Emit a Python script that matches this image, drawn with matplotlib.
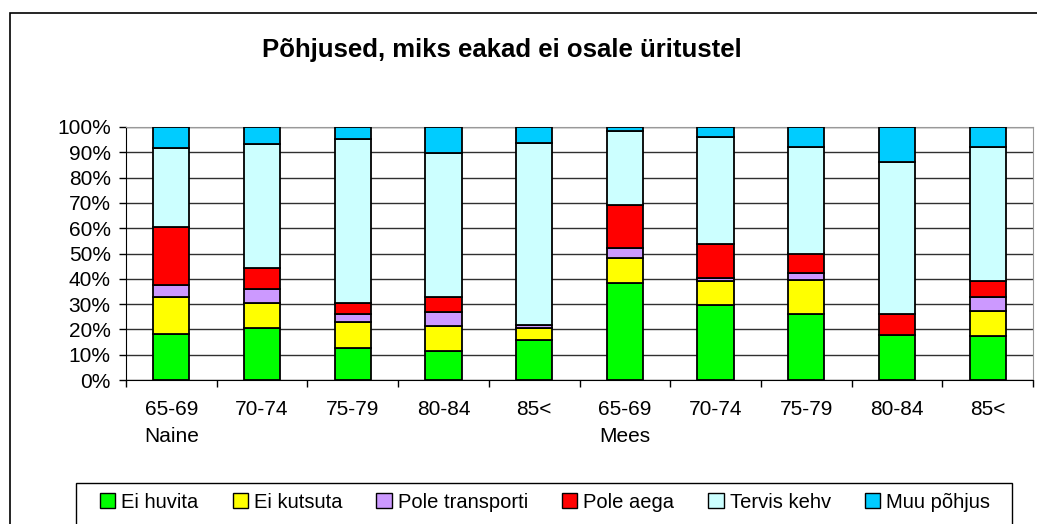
import matplotlib.pyplot as plt
from matplotlib.patches import Patch, Rectangle
import numpy as np

plt.rcParams['font.family'] = ['Liberation Sans', 'DejaVu Sans']

age_groups = ['65-69', '70-74', '75-79', '80-84', '85<',
              '65-69', '70-74', '75-79', '80-84', '85<']
sex_groups = ['Naine', 'Mees']

# shares in percent, per age group (Naine then Mees)
ei_huvita = [18.2, 20.4, 12.8, 11.3, 16.0, 38.3, 29.7, 26.0, 17.7, 17.5]
ei_kutsuta = [14.5, 9.9, 10.3, 10.1, 4.4, 10.0, 9.4, 13.7, 0.0, 9.9]
pole_transporti = [4.8, 5.7, 2.9, 5.4, 1.2, 3.8, 1.1, 2.4, 0.0, 5.6]
pole_aega = [22.9, 8.3, 4.5, 6.0, 0.3, 17.2, 13.6, 7.9, 8.3, 6.2]
tervis_kehv = [31.2, 48.8, 64.9, 57.0, 71.9, 29.1, 42.2, 42.2, 60.1, 53.0]
muu_pohjus = [8.4, 6.9, 4.6, 10.2, 6.2, 1.6, 4.0, 7.8, 13.9, 7.8]

series_names = ['Ei huvita', 'Ei kutsuta', 'Pole transporti', 'Pole aega',
                'Tervis kehv', 'Muu põhjus']
series_vals = [ei_huvita, ei_kutsuta, pole_transporti, pole_aega,
               tervis_kehv, muu_pohjus]
colors = ['#00FF00', '#FFFF00', '#CC99FF', '#FF0000', '#CCFFFF', '#00CCFF']

W, H = 1037, 524
fig = plt.figure(figsize=(W / 100, H / 100), dpi=100)
ax = fig.add_axes([126 / W, 1 - 380 / H, (1033 - 126) / W, (380 - 127) / H])

x = np.arange(len(age_groups))
bottom = np.zeros(len(age_groups))
for name, vals, c in zip(series_names, series_vals, colors):
    vals = np.array(vals)
    ax.bar(x, vals, 0.4, bottom=bottom, color=c, edgecolor='black',
           linewidth=1.3, zorder=3)
    bottom += vals

ax.set_xlim(-0.5, len(age_groups) - 0.5)
ax.set_ylim(0, 100)
ax.set_yticks(np.arange(0, 101, 10))
ax.set_yticklabels([f'{v}%' for v in range(0, 101, 10)], fontsize=15)
ax.yaxis.grid(True, color='#303030', linewidth=1.0, zorder=0)
ax.tick_params(axis='y', length=5, width=1, pad=6, direction='out')

ax.set_xticks(np.arange(-0.5, len(age_groups), 1.0))
ax.set_xticklabels([])
ax.tick_params(axis='x', length=5, width=1, direction='out')

for i, lab in enumerate(age_groups):
    ax.text(i, -0.118, lab, transform=ax.get_xaxis_transform(),
            ha='center', va='center', fontsize=15)
ax.text(0, -0.225, sex_groups[0], transform=ax.get_xaxis_transform(),
        ha='center', va='center', fontsize=15)
ax.text(5, -0.225, sex_groups[1], transform=ax.get_xaxis_transform(),
        ha='center', va='center', fontsize=15)

for s in ['top', 'right']:
    ax.spines[s].set_color('#999999')
for s in ['left', 'bottom']:
    ax.spines[s].set_color('black')

fig.text(502 / W, 1 - 50 / H, 'Põhjused, miks eakad ei osale üritustel',
         ha='center', va='center', fontsize=18.5, fontweight='bold')

# outer chart border and legend box
fig.patches.append(Rectangle((10 / W, -0.1), 1.2, 1 - 13 / H + 0.1,
                             transform=fig.transFigure, fill=False,
                             edgecolor='black', linewidth=1.2))
fig.patches.append(Rectangle((76 / W, -0.1), (1012 - 76) / W, 1 - 483 / H + 0.1,
                             transform=fig.transFigure, fill=False,
                             edgecolor='black', linewidth=1.0))

handles = [Patch(facecolor=c, edgecolor='black', linewidth=1.0) for c in colors]
fig.legend(handles, series_names, loc='center', ncol=6,
           bbox_to_anchor=(545 / W, 1 - 502 / H), frameon=False,
           fontsize=14.5, handlelength=0.75, handleheight=0.75,
           handletextpad=0.3, columnspacing=1.7)

fig.savefig('out.png', dpi=100)
